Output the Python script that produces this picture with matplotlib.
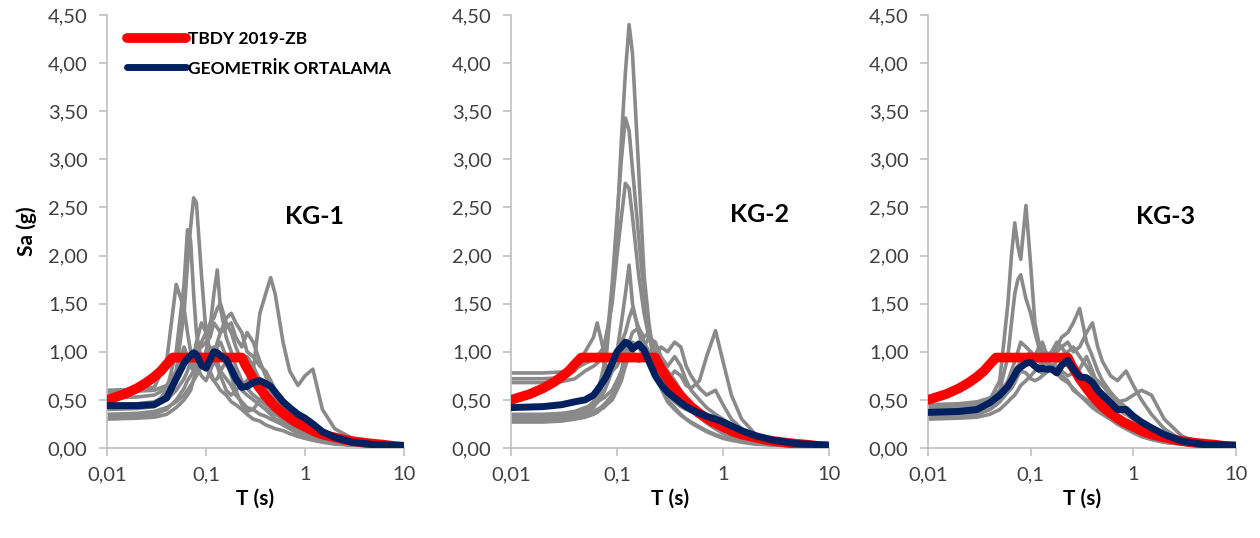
import matplotlib
matplotlib.use('Agg')
import matplotlib.pyplot as plt
from matplotlib.ticker import FixedLocator, FixedFormatter, NullLocator

plt.rcParams['font.family'] = ['Lato', 'DejaVu Sans']

# period grid shared by the records and mean curves (s)
periods = [0.01, 0.02, 0.03, 0.04, 0.05, 0.06, 0.065, 0.07, 0.075, 0.08, 0.09, 0.10,
           0.11, 0.12, 0.13, 0.14, 0.16, 0.18, 0.20, 0.23, 0.26, 0.30, 0.35, 0.40,
           0.45, 0.50, 0.60, 0.70, 0.85, 1.0, 1.2, 1.5, 2.0, 3.0, 5.0, 10.0]

# TBDY 2019 design spectrum
tbdy_T = [0.01, 0.015, 0.02, 0.025, 0.03, 0.035, 0.04, 0.046, 0.1, 0.23, 0.25, 0.3,
          0.35, 0.4, 0.5, 0.6, 0.7, 0.8, 1.0, 1.25, 1.5, 2.0, 2.5, 3.0, 4.0, 5.0,
          6.0, 8.0, 10.0]
tbdy_sa = [0.50, 0.56, 0.62, 0.68, 0.74, 0.80, 0.87, 0.94, 0.94, 0.94, 0.86, 0.72,
           0.62, 0.54, 0.43, 0.36, 0.31, 0.27, 0.22, 0.17, 0.14, 0.11, 0.086, 0.072,
           0.054, 0.043, 0.036, 0.020, 0.013]

# KG-1 records
kg1_records = [
    [0.45, 0.46, 0.48, 0.55, 0.80, 1.40, 1.90, 2.30, 2.60, 2.55, 1.80, 1.20, 0.95, 1.05, 0.90, 0.80, 0.72, 0.65,
     0.55, 0.48, 0.42, 0.40, 0.35, 0.33, 0.30, 0.28, 0.24, 0.20, 0.15, 0.12, 0.10, 0.07, 0.05, 0.03, 0.02, 0.01],
    [0.40, 0.41, 0.43, 0.60, 1.00, 1.70, 2.27, 2.15, 1.60, 1.20, 0.90, 1.00, 1.25, 1.60, 1.85, 1.45, 1.15, 1.00,
     0.85, 0.70, 0.62, 0.55, 0.50, 0.45, 0.40, 0.35, 0.30, 0.25, 0.19, 0.15, 0.11, 0.08, 0.05, 0.03, 0.02, 0.01],
    [0.60, 0.61, 0.63, 0.90, 1.70, 1.45, 1.20, 1.00, 0.95, 1.10, 1.30, 1.20, 1.00, 0.90, 1.05, 1.10, 0.95, 0.80,
     0.70, 0.60, 0.55, 0.50, 0.45, 0.40, 0.35, 0.30, 0.27, 0.22, 0.17, 0.13, 0.10, 0.07, 0.05, 0.03, 0.02, 0.01],
    [0.32, 0.33, 0.35, 0.40, 0.50, 0.62, 0.70, 0.75, 0.80, 0.85, 0.75, 0.70, 0.80, 0.90, 0.85, 0.75, 0.60, 0.55,
     0.60, 0.65, 0.70, 0.80, 1.40, 1.60, 1.77, 1.60, 1.10, 0.80, 0.65, 0.75, 0.82, 0.40, 0.20, 0.10, 0.04, 0.02],
    [0.52, 0.53, 0.55, 0.62, 0.75, 0.90, 0.95, 0.85, 0.80, 0.95, 1.10, 1.20, 1.30, 1.35, 1.45, 1.50, 1.30, 1.20,
     1.05, 0.90, 0.95, 0.85, 0.70, 0.62, 0.55, 0.50, 0.40, 0.35, 0.28, 0.22, 0.17, 0.12, 0.08, 0.05, 0.03, 0.02],
    [0.35, 0.36, 0.38, 0.42, 0.48, 0.55, 0.60, 0.65, 0.70, 0.75, 0.85, 1.00, 1.05, 0.95, 1.10, 1.20, 1.25, 1.30,
     1.15, 1.05, 1.20, 1.10, 0.90, 0.75, 0.65, 0.55, 0.45, 0.38, 0.30, 0.25, 0.20, 0.14, 0.09, 0.05, 0.03, 0.02],
    [0.30, 0.31, 0.32, 0.35, 0.42, 0.50, 0.55, 0.60, 0.72, 0.80, 0.85, 0.92, 0.80, 0.70, 0.65, 0.60, 0.55, 0.48,
     0.45, 0.40, 0.35, 0.30, 0.28, 0.24, 0.22, 0.20, 0.18, 0.15, 0.12, 0.10, 0.08, 0.06, 0.04, 0.03, 0.02, 0.01],
    [0.58, 0.59, 0.60, 0.65, 0.80, 1.05, 0.95, 0.85, 0.90, 1.00, 0.95, 0.85, 0.75, 0.70, 0.72, 0.80, 0.90, 0.75,
     0.60, 0.45, 0.38, 0.40, 0.50, 0.55, 0.50, 0.42, 0.35, 0.30, 0.25, 0.20, 0.15, 0.10, 0.07, 0.04, 0.02, 0.01],
    [0.42, 0.43, 0.45, 0.50, 0.60, 0.72, 0.80, 0.90, 0.95, 1.00, 1.05, 1.10, 1.15, 1.30, 1.25, 1.20, 1.35, 1.40,
     1.30, 1.20, 1.00, 0.95, 0.85, 0.80, 0.70, 0.60, 0.50, 0.40, 0.33, 0.27, 0.22, 0.15, 0.10, 0.06, 0.03, 0.02],
]
kg1_mean = [0.44, 0.44, 0.45, 0.52, 0.72, 0.88, 0.93, 0.96, 0.99, 0.97, 0.86, 0.83, 0.92, 1.00, 0.99, 0.96, 0.92, 0.82,
            0.72, 0.63, 0.64, 0.68, 0.70, 0.67, 0.64, 0.58, 0.48, 0.42, 0.35, 0.31, 0.25, 0.17, 0.11, 0.06, 0.035, 0.025]

# KG-2 records
kg2_records = [
    [0.30, 0.30, 0.31, 0.33, 0.36, 0.42, 0.48, 0.58, 0.75, 1.00, 1.60, 2.30, 3.20, 3.90, 4.40, 4.10, 2.90, 1.80,
     1.30, 0.85, 0.65, 0.50, 0.42, 0.35, 0.30, 0.27, 0.22, 0.18, 0.14, 0.11, 0.09, 0.07, 0.05, 0.03, 0.02, 0.01],
    [0.32, 0.32, 0.33, 0.35, 0.40, 0.48, 0.58, 0.70, 0.85, 1.10, 1.70, 2.40, 3.00, 3.43, 3.30, 2.90, 2.20, 1.60,
     1.20, 0.80, 0.62, 0.48, 0.40, 0.34, 0.30, 0.26, 0.21, 0.17, 0.13, 0.10, 0.08, 0.06, 0.04, 0.03, 0.02, 0.01],
    [0.78, 0.78, 0.79, 0.82, 0.88, 0.92, 0.95, 1.00, 1.05, 1.20, 1.50, 2.00, 2.40, 2.75, 2.70, 2.40, 1.80, 1.40,
     1.15, 0.95, 0.80, 0.70, 0.60, 0.52, 0.45, 0.40, 0.33, 0.27, 0.20, 0.16, 0.12, 0.09, 0.06, 0.04, 0.03, 0.02],
    [0.72, 0.72, 0.73, 0.80, 1.00, 1.15, 1.30, 1.15, 1.00, 0.95, 0.95, 1.00, 1.10, 1.20, 1.35, 1.45, 1.25, 1.10,
     1.00, 0.85, 0.75, 0.65, 0.55, 0.48, 0.42, 0.38, 0.32, 0.26, 0.20, 0.15, 0.12, 0.09, 0.06, 0.04, 0.03, 0.02],
    [0.68, 0.68, 0.69, 0.72, 0.80, 0.85, 0.88, 0.92, 0.90, 0.85, 0.80, 0.85, 0.95, 1.05, 1.10, 1.00, 0.90, 0.95,
     1.00, 0.85, 0.75, 0.70, 0.80, 0.75, 0.65, 0.62, 0.70, 0.95, 1.22, 0.90, 0.55, 0.30, 0.15, 0.07, 0.03, 0.02],
    [0.30, 0.30, 0.31, 0.33, 0.35, 0.38, 0.40, 0.42, 0.45, 0.48, 0.55, 0.65, 0.80, 1.00, 1.10, 1.20, 1.25, 1.15,
     1.20, 1.00, 0.90, 0.80, 0.70, 0.60, 0.52, 0.45, 0.38, 0.32, 0.26, 0.20, 0.15, 0.10, 0.07, 0.04, 0.02, 0.01],
    [0.27, 0.27, 0.28, 0.30, 0.32, 0.35, 0.37, 0.40, 0.42, 0.45, 0.50, 0.60, 0.70, 0.85, 0.95, 1.00, 1.10, 1.05,
     1.15, 1.10, 0.95, 0.85, 0.95, 0.85, 0.70, 0.60, 0.50, 0.42, 0.35, 0.30, 0.24, 0.17, 0.11, 0.06, 0.03, 0.02],
    [0.35, 0.35, 0.36, 0.38, 0.42, 0.45, 0.48, 0.50, 0.52, 0.55, 0.60, 0.70, 0.80, 0.90, 1.00, 1.10, 1.05, 0.95,
     0.90, 0.95, 1.05, 1.00, 1.10, 1.05, 0.85, 0.75, 0.62, 0.55, 0.60, 0.45, 0.30, 0.20, 0.12, 0.07, 0.03, 0.02],
    [0.33, 0.33, 0.34, 0.36, 0.40, 0.44, 0.47, 0.52, 0.58, 0.65, 0.80, 1.00, 1.30, 1.60, 1.90, 1.50, 1.20, 1.00,
     0.90, 0.75, 0.65, 0.55, 0.48, 0.43, 0.40, 0.38, 0.32, 0.28, 0.22, 0.18, 0.14, 0.10, 0.07, 0.04, 0.02, 0.01],
]
kg2_mean = [0.42, 0.43, 0.45, 0.48, 0.50, 0.55, 0.60, 0.65, 0.70, 0.75, 0.88, 1.00, 1.05, 1.10, 1.08, 1.03, 1.08, 1.02,
            0.90, 0.75, 0.66, 0.58, 0.52, 0.47, 0.43, 0.40, 0.36, 0.33, 0.30, 0.27, 0.23, 0.18, 0.13, 0.08, 0.045, 0.03]

# KG-3 records
kg3_records = [
    [0.40, 0.41, 0.43, 0.50, 0.70, 1.50, 2.00, 2.34, 2.10, 1.96, 2.52, 1.90, 1.30, 1.10, 1.00, 0.95, 0.85, 0.80,
     0.75, 0.70, 0.60, 0.55, 0.48, 0.42, 0.38, 0.35, 0.30, 0.25, 0.20, 0.16, 0.12, 0.09, 0.06, 0.04, 0.02, 0.01],
    [0.35, 0.36, 0.38, 0.45, 0.60, 0.95, 1.30, 1.60, 1.75, 1.80, 1.55, 1.40, 1.20, 1.05, 0.95, 0.90, 0.82, 0.78,
     0.72, 0.68, 0.62, 0.55, 0.50, 0.45, 0.40, 0.36, 0.30, 0.25, 0.20, 0.16, 0.12, 0.09, 0.06, 0.04, 0.02, 0.01],
    [0.32, 0.33, 0.35, 0.40, 0.48, 0.60, 0.65, 0.72, 0.80, 0.85, 0.95, 1.00, 0.95, 1.05, 1.10, 1.00, 0.95, 1.05,
     1.15, 1.20, 1.30, 1.45, 1.10, 0.95, 0.80, 0.70, 0.58, 0.50, 0.42, 0.35, 0.28, 0.20, 0.12, 0.06, 0.03, 0.02],
    [0.45, 0.46, 0.48, 0.52, 0.60, 0.68, 0.72, 0.78, 0.82, 0.85, 0.90, 0.95, 0.88, 0.80, 0.85, 0.90, 0.95, 1.00,
     1.05, 1.10, 1.00, 1.05, 1.20, 1.30, 1.05, 0.90, 0.75, 0.70, 0.80, 0.65, 0.50, 0.35, 0.20, 0.08, 0.04, 0.02],
    [0.30, 0.31, 0.32, 0.35, 0.40, 0.48, 0.52, 0.55, 0.60, 0.65, 0.70, 0.75, 0.80, 0.85, 0.90, 0.95, 1.00, 0.95,
     0.90, 0.85, 0.80, 0.75, 0.70, 0.65, 0.62, 0.58, 0.52, 0.48, 0.50, 0.55, 0.60, 0.55, 0.30, 0.12, 0.04, 0.02],
    [0.38, 0.39, 0.40, 0.45, 0.55, 0.70, 0.80, 0.90, 1.00, 1.10, 1.05, 1.00, 0.95, 0.90, 0.88, 0.92, 1.00, 1.10,
     1.05, 0.95, 0.85, 0.78, 0.70, 0.62, 0.55, 0.48, 0.40, 0.34, 0.28, 0.22, 0.17, 0.12, 0.08, 0.04, 0.02, 0.01],
    [0.42, 0.43, 0.45, 0.50, 0.58, 0.68, 0.72, 0.78, 0.85, 0.90, 0.95, 0.90, 0.85, 0.80, 0.78, 0.80, 0.85, 0.90,
     0.95, 1.00, 1.05, 0.95, 0.85, 0.75, 0.70, 0.65, 0.55, 0.45, 0.38, 0.30, 0.24, 0.16, 0.10, 0.05, 0.03, 0.02],
    [0.33, 0.34, 0.36, 0.40, 0.48, 0.58, 0.62, 0.68, 0.75, 0.80, 0.78, 0.72, 0.70, 0.72, 0.75, 0.78, 0.82, 0.85,
     0.80, 0.75, 0.78, 0.82, 0.95, 0.80, 0.65, 0.55, 0.45, 0.40, 0.35, 0.30, 0.25, 0.18, 0.11, 0.06, 0.03, 0.02],
]
kg3_mean = [0.37, 0.38, 0.40, 0.47, 0.55, 0.64, 0.70, 0.76, 0.82, 0.84, 0.88, 0.89, 0.85, 0.82, 0.83, 0.82, 0.82, 0.78,
            0.86, 0.91, 0.82, 0.74, 0.73, 0.68, 0.60, 0.55, 0.47, 0.40, 0.40, 0.33, 0.27, 0.21, 0.14, 0.07, 0.035, 0.03]

panel_titles = ['KG-1', 'KG-2', 'KG-3']
y_ticks = [0.0, 0.5, 1.0, 1.5, 2.0, 2.5, 3.0, 3.5, 4.0, 4.5]
y_tick_labels = ['0,00', '0,50', '1,00', '1,50', '2,00', '2,50', '3,00', '3,50', '4,00', '4,50']
x_ticks = [0.01, 0.1, 1, 10]
x_tick_labels = ['0,01', '0,1', '1', '10']

GRAY = '#8a8a8a'
RED = '#ff0000'
NAVY = '#002060'
AXIS = '#bfbfbf'
TEXT = '#404040'

fig = plt.figure(figsize=(12.6, 5.38), dpi=100)

# axes boxes in pixels: left, width
boxes = [(107, 297), (511, 318), (928, 308)]
bottom_px, height_px = 90, 433

panels = [(kg1_records, kg1_mean), (kg2_records, kg2_mean), (kg3_records, kg3_mean)]
title_pos = [(0.70, 0.535), (0.78, 0.54), (0.77, 0.535)]

for i, ((left, width), (records, mean)) in enumerate(zip(boxes, panels)):
    ax = fig.add_axes([left / 1260, bottom_px / 538, width / 1260, height_px / 538])
    for rec in records:
        ax.plot(periods, rec, color=GRAY, lw=2.6, solid_joinstyle='round', zorder=2)
    ax.plot(tbdy_T, tbdy_sa, color=RED, lw=7, solid_capstyle='round', zorder=3,
            label='TBDY 2019-ZB')
    ax.plot(periods, mean, color=NAVY, lw=5, solid_capstyle='round', zorder=4,
            label='GEOMETRİK ORTALAMA')

    ax.set_xscale('log')
    ax.set_xlim(0.01, 10)
    ax.set_ylim(0, 4.5)
    ax.xaxis.set_major_locator(FixedLocator(x_ticks))
    ax.xaxis.set_major_formatter(FixedFormatter(x_tick_labels))
    ax.xaxis.set_minor_locator(NullLocator())
    ax.set_yticks(y_ticks)
    ax.set_yticklabels(y_tick_labels)

    for s in ['top', 'right']:
        ax.spines[s].set_visible(False)
    for s in ['left', 'bottom']:
        ax.spines[s].set_color(AXIS)
        ax.spines[s].set_linewidth(1.2)
    ax.tick_params(axis='both', direction='out', length=6, width=1.2, color=AXIS,
                   labelcolor=TEXT, labelsize=14.5)
    ax.tick_params(axis='x', pad=7)
    ax.tick_params(axis='y', pad=8)

    ax.set_xlabel('T (s)', fontsize=15, fontweight='bold', color='#000000', labelpad=4)
    ax.text(title_pos[i][0], title_pos[i][1], panel_titles[i], transform=ax.transAxes,
            fontsize=18, fontweight='bold', ha='center', va='center')

    if i == 0:
        ax.set_ylabel('Sa (g)', fontsize=15, fontweight='bold', labelpad=8)
        leg = ax.legend(loc='upper left', bbox_to_anchor=(0.015, 1.0), frameon=False,
                        handlelength=3.4, handletextpad=0.1, labelspacing=0.8,
                        prop={'size': 12.5, 'weight': 'bold'})
        for h in leg.get_lines():
            h.set_solid_capstyle('round')

fig.savefig('out.png', dpi=100)
